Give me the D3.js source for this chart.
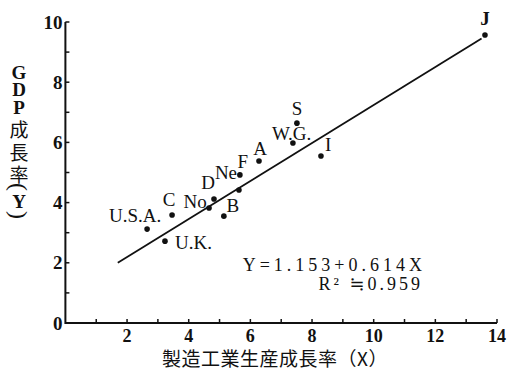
<!DOCTYPE html>
<html>
<head>
<meta charset="utf-8">
<script src="https://cdn.jsdelivr.net/npm/d3@7"></script>
<style>
  html, body { margin: 0; padding: 0; background: #fff; }
  svg { display: block; }
  .lat { font-family: "Liberation Serif", "DejaVu Serif", serif; fill: #111; }
  .cjk { font-family: "Noto Sans CJK JP", sans-serif; fill: #111; }
</style>
</head>
<body>
<div id="chart"></div>
<script>
// countries and their (manufacturing growth X, GDP growth Y)
var countries = ['J', 'S', 'W.G.', 'I', 'A', 'F', 'Ne', 'D', 'No', 'B', 'C', 'U.S.A.', 'U.K.'];
var xValues = [13.61, 7.51, 7.38, 8.29, 6.28, 5.66, 5.63, 4.82, 4.66, 5.14, 3.46, 2.65, 3.23];
var yValues = [9.57, 6.64, 5.98, 5.55, 5.38, 4.92, 4.42, 4.12, 3.82, 3.55, 3.59, 3.12, 2.72];
// regression line as drawn (end points)
var fitX = [1.7, 13.5];
var fitY = [2.0, 9.45];
var xTickLabels = [2, 4, 6, 8, 10, 12, 14];
var yTickLabels = [0, 2, 4, 6, 8, 10];
var yTitle = ['G', 'D', 'P', '成', '長', '率', '(', 'Y', ')'];
var xTitle = '製造工業生産成長率（X）';
var equation = 'Y=1.153+0.614X';
var rSquared = 'R² ≒0.959';

// label placement relative to each dot: [dx, dy, anchor]
var labelPos = {
  'J': [0, -16, 'middle'], 'S': [0, -15, 'middle'], 'W.G.': [-21, -10, 'start'],
  'I': [4, -11, 'start'], 'A': [1, -13, 'middle'], 'F': [3, -13, 'middle'],
  'Ne': [-13, -17, 'middle'], 'D': [-6, -16, 'middle'], 'No': [-14, -7, 'middle'],
  'B': [9, -11, 'middle'], 'C': [-3, -15, 'middle'], 'U.S.A.': [-12, -14, 'middle'],
  'U.K.': [10, 1, 'start']
};

var width = 508, height = 369;
var svg = d3.select('#chart').append('svg').attr('width', width).attr('height', height);

var x = d3.scaleLinear().domain([0, 14]).range([65.4, 497]);
var y = d3.scaleLinear().domain([0, 10]).range([323, 22]);

var axisG = svg.append('g');
// axis lines
axisG.append('path')
  .attr('d', 'M' + x(0) + ',' + y(10) + 'V' + y(0) + 'H' + x(14))
  .attr('fill', 'none').attr('stroke', '#111').attr('stroke-width', 2);

// minor ticks every unit (inside)
axisG.selectAll('.xt').data(d3.range(1, 15)).enter().append('line')
  .attr('x1', function (d) { return x(d); }).attr('x2', function (d) { return x(d); })
  .attr('y1', y(0)).attr('y2', y(0) - 4)
  .attr('stroke', '#111').attr('stroke-width', 1.5);
axisG.selectAll('.yt').data(d3.range(1, 11)).enter().append('line')
  .attr('y1', function (d) { return y(d); }).attr('y2', function (d) { return y(d); })
  .attr('x1', x(0)).attr('x2', x(0) + 4)
  .attr('stroke', '#111').attr('stroke-width', 1.5);

axisG.selectAll('.xl').data(xTickLabels).enter().append('text')
  .attr('class', 'lat')
  .attr('x', function (d) { return x(d); }).attr('y', y(0) + 13)
  .attr('text-anchor', 'middle').attr('dominant-baseline', 'central')
  .attr('font-size', 18).attr('font-weight', 'bold')
  .text(function (d) { return d; });
axisG.selectAll('.yl').data(yTickLabels).enter().append('text')
  .attr('class', 'lat')
  .attr('x', x(0) - 3).attr('y', function (d) { return y(d); })
  .attr('text-anchor', 'end').attr('dominant-baseline', 'central')
  .attr('font-size', 19).attr('font-weight', 'bold')
  .text(function (d) { return d; });

// y title: stacked characters, brackets turned sideways
var yStep = [72, 89, 107, 128, 151, 173, 187, 201, 215];
svg.append('g').selectAll('text').data(yTitle).enter().append('text')
  .attr('class', function (d) { return /[A-Z()]/.test(d) ? 'lat' : 'cjk'; })
  .attr('text-anchor', 'middle').attr('dominant-baseline', 'central')
  .attr('transform', function (d, i) {
    var t = 'translate(19,' + yStep[i] + ')';
    return /[()]/.test(d) ? t + ' rotate(90)' : t;
  })
  .attr('font-size', function (d) { return /[()]/.test(d) ? 24 : (/[A-Z]/.test(d) ? 19 : 19); })
  .attr('font-weight', function (d) { return /[A-Z]/.test(d) ? 'bold' : 'normal'; })
  .text(function (d) { return d; });

svg.append('text').attr('class', 'cjk')
  .attr('x', 275).attr('y', 357)
  .attr('text-anchor', 'middle').attr('dominant-baseline', 'central')
  .attr('font-size', 19).attr('letter-spacing', 0.5)
  .text(xTitle);

// regression line
svg.append('line')
  .attr('x1', x(fitX[0])).attr('y1', y(fitY[0]))
  .attr('x2', x(fitX[1])).attr('y2', y(fitY[1]))
  .attr('stroke', '#111').attr('stroke-width', 1.8);

var pts = countries.map(function (c, i) { return { name: c, x: xValues[i], y: yValues[i] }; });

svg.append('g').selectAll('circle').data(pts).enter().append('circle')
  .attr('cx', function (d) { return x(d.x); })
  .attr('cy', function (d) { return y(d.y); })
  .attr('r', 2.8).attr('fill', '#111');

svg.append('g').selectAll('text').data(pts).enter().append('text')
  .attr('class', 'lat')
  .attr('x', function (d) { return x(d.x) + labelPos[d.name][0]; })
  .attr('y', function (d) { return y(d.y) + labelPos[d.name][1]; })
  .attr('text-anchor', function (d) { return labelPos[d.name][2]; })
  .attr('dominant-baseline', 'central')
  .attr('font-size', 19)
  .attr('font-weight', function (d) { return d.name === 'J' ? 'bold' : 'normal'; })
  .text(function (d) { return d.name; });

// equation
svg.append('text').attr('class', 'lat')
  .attr('x', 426).attr('y', 265).attr('text-anchor', 'end')
  .attr('dominant-baseline', 'central').attr('font-size', 18)
  .attr('letter-spacing', 4)
  .text(equation);
svg.append('text').attr('class', 'lat')
  .attr('x', 423).attr('y', 284).attr('text-anchor', 'end')
  .attr('dominant-baseline', 'central').attr('font-size', 18)
  .attr('letter-spacing', 3)
  .text(rSquared);
</script>
</body>
</html>
